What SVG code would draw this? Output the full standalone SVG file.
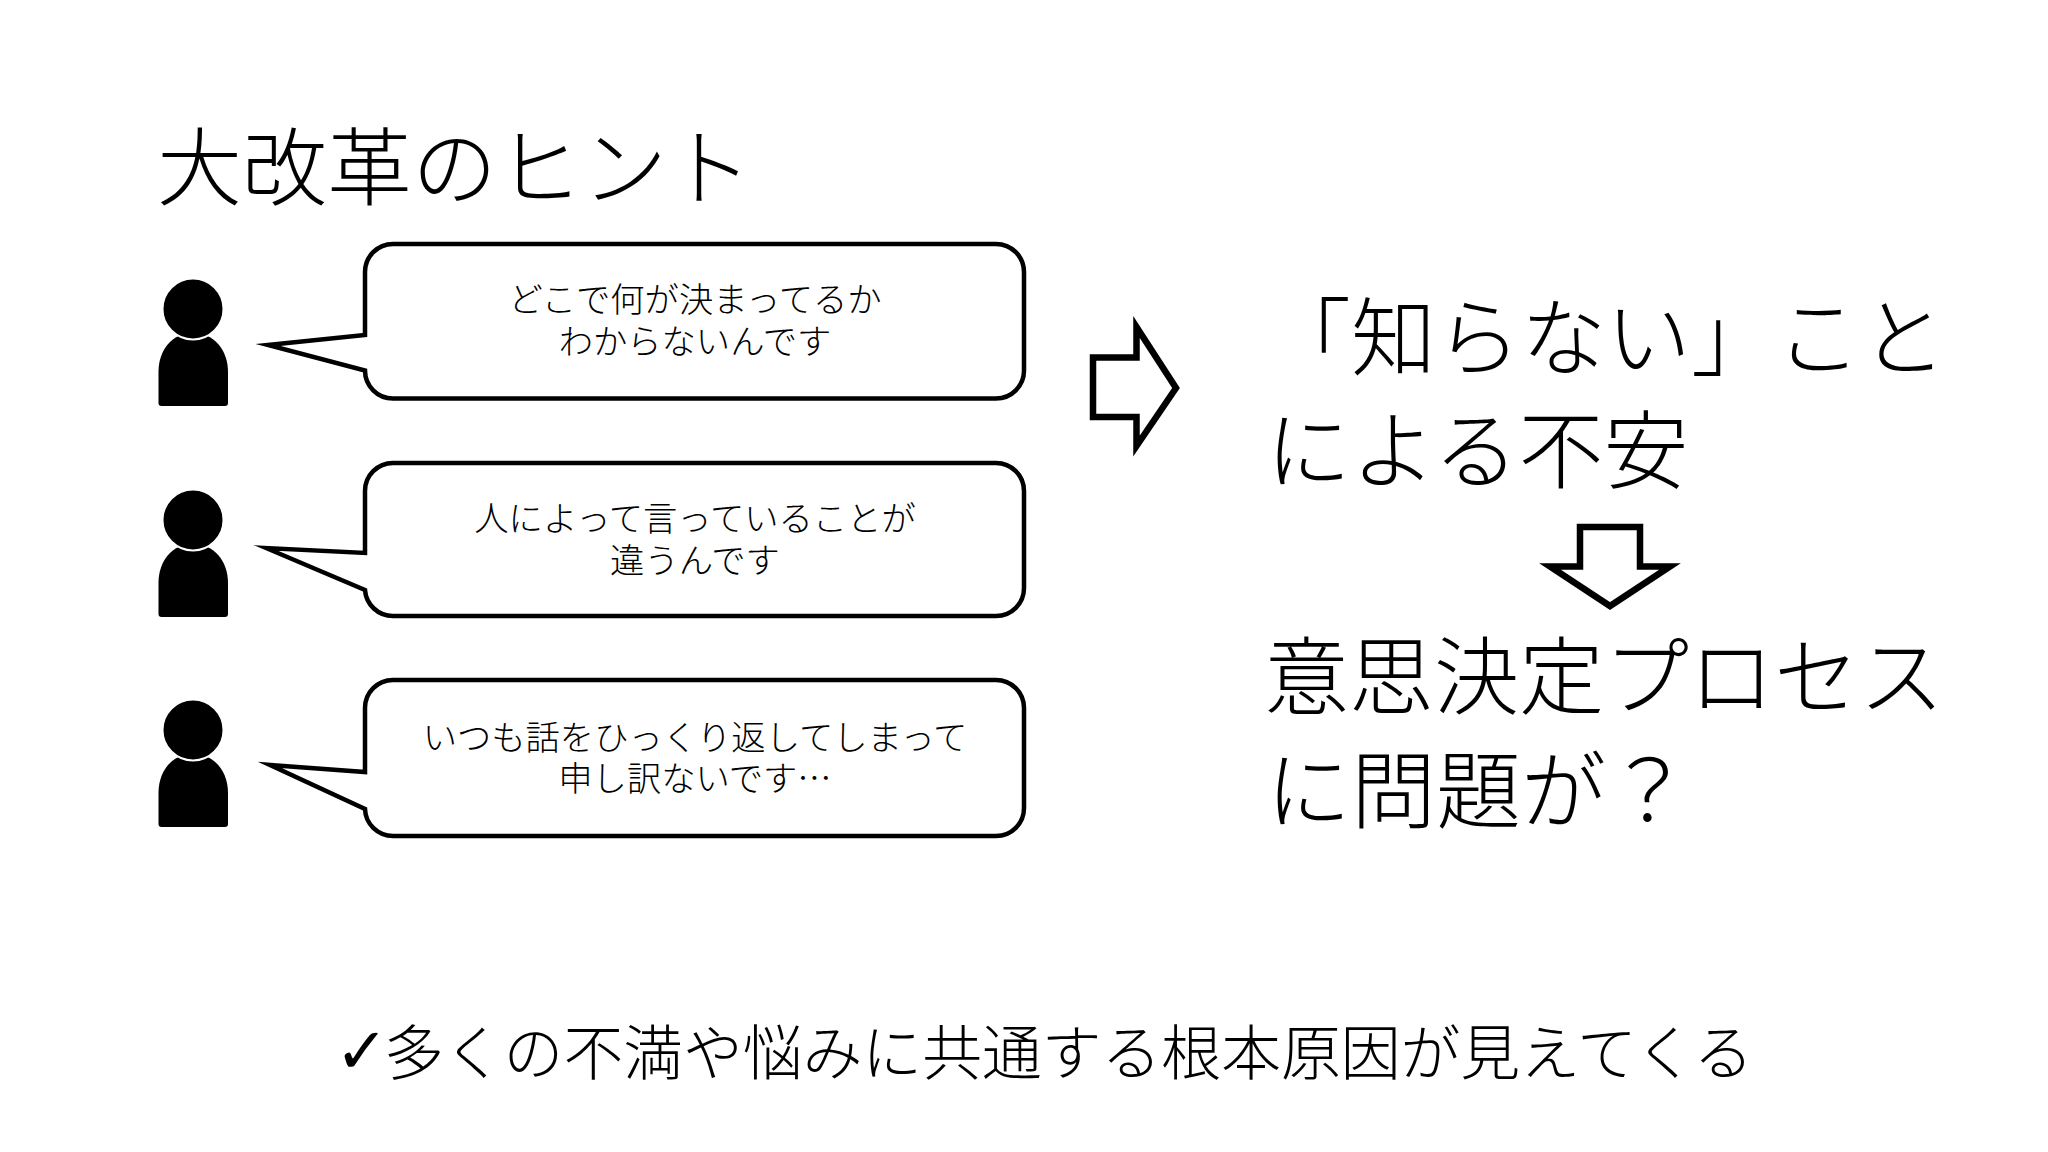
<svg xmlns="http://www.w3.org/2000/svg" xmlns:xlink="http://www.w3.org/1999/xlink" width="2048" height="1152" viewBox="0 0 2048 1152">
<style>
text{font-family:"Noto Sans CJK JP","Noto Sans",sans-serif;font-weight:300;fill:#000}
.big{font-size:85px}
.say{font-size:34.300px;text-anchor:middle}
.foot{font-size:59.800px}
.bubble{fill:#fff;stroke:#000;stroke-width:4.500;stroke-miterlimit:12}
.arrow{fill:#fff;stroke:#000;stroke-width:6.500;stroke-miterlimit:12}
</style>
<defs>
<g id="person">
<path d="M158.500 372C158.500 350 172 333 193 333C214 333 228 350 228 372V403Q228 406 225 406H161.500Q158.500 406 158.500 403Z" fill="#000"/>
<ellipse cx="193" cy="309" rx="30.500" ry="30.500" fill="#000" stroke="#fff" stroke-width="2"/>
</g>
</defs>
<rect width="2048" height="1152" fill="#fff"/>
<g id="title"><text class="big" x="157" y="199">大改革のヒント</text></g>
<g id="person1"><use href="#person" xlink:href="#person"/></g>
<g id="person2"><use href="#person" xlink:href="#person" y="211"/></g>
<g id="person3"><use href="#person" xlink:href="#person" y="421"/></g>
<g id="bubble1">
<path class="bubble" d="M393 244H996A28 28 0 0 1 1024 272V370.500A28 28 0 0 1 996 398.500H393A28 28 0 0 1 365 370.500L268 345L365 335V272A28 28 0 0 1 393 244Z"/>
<text class="say" x="695" y="312">どこで何が決まってるか</text>
<text class="say" x="695" y="354">わからないんです</text>
</g>
<g id="bubble2">
<path class="bubble" d="M393 463H996A28 28 0 0 1 1024 491V588A28 28 0 0 1 996 616H393A28 28 0 0 1 365 590L266 548L365 553V491A28 28 0 0 1 393 463Z"/>
<text class="say" x="695" y="531">人によって言っていることが</text>
<text class="say" x="695" y="573">違うんです</text>
</g>
<g id="bubble3">
<path class="bubble" d="M393 680H996A28 28 0 0 1 1024 708V808A28 28 0 0 1 996 836H393A28 28 0 0 1 365 809L270 765L365 772V708A28 28 0 0 1 393 680Z"/>
<text class="say" x="695" y="750">いつも話をひっくり返してしまって</text>
<text class="say" x="695" y="791">申し訳ないです…</text>
</g>
<g id="connectors">
<path class="arrow" d="M1093 357.500H1136.500V327L1176 388L1136.500 446V417H1093Z"/>
<path class="arrow" d="M1580 527H1640V566.500H1670L1610 606L1550 566.500H1580Z"/>
</g>
<g id="conclusion">
<text class="big" x="1266" y="369">「知らない」こと</text>
<text class="big" x="1266" y="482">による不安</text>
<text class="big" x="1264" y="708">意思決定プロセス</text>
<text class="big" x="1266" y="822">に問題が？</text>
</g>
<g id="footer">
<text class="foot" y="1073"><tspan x="335" font-family="DejaVu Sans" font-weight="700" font-size="64">✓</tspan><tspan x="384" y="1075">多くの不満や悩みに共通する根本原因が見えてくる</tspan></text>
</g>
</svg>
